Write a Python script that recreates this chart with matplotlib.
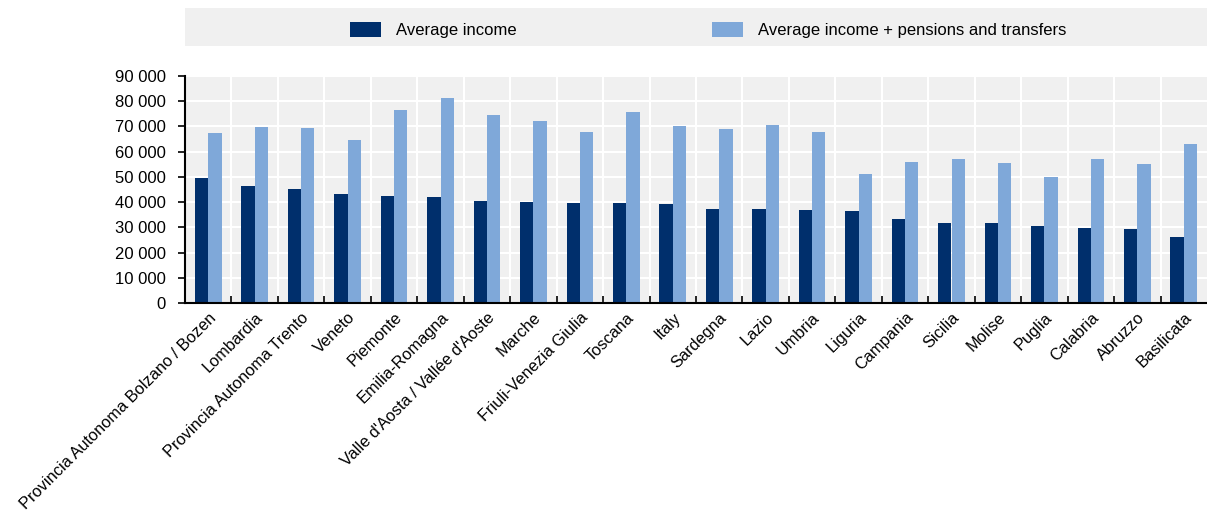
import numpy as np
import matplotlib
matplotlib.use("Agg")
import matplotlib.pyplot as plt
from matplotlib.ticker import FixedLocator, FuncFormatter

# Average disposable income by region, before and after pensions and transfers
regions = [
    "Provincia Autonoma Bolzano / Bozen", "Lombardia", "Provincia Autonoma Trento",
    "Veneto", "Piemonte", "Emilia-Romagna", "Valle d'Aosta / Vallée d'Aoste",
    "Marche", "Friuli-Venezia Giulia", "Toscana", "Italy", "Sardegna", "Lazio",
    "Umbria", "Liguria", "Campania", "Sicilia", "Molise", "Puglia", "Calabria",
    "Abruzzo", "Basilicata",
]
avg_income = [
    49400, 46500, 45100, 43200, 42600, 42000, 40400,
    40000, 39700, 39600, 39300, 37200, 37200,
    36800, 36500, 33400, 31900, 31800, 30700, 29900,
    29300, 26200,
]
avg_income_transfers = [
    67300, 69800, 69500, 64600, 76400, 81300, 74500,
    72000, 67800, 75600, 70100, 69100, 70500,
    67600, 51300, 55900, 57100, 55500, 50000, 57100,
    55100, 62900,
]
series_labels = ["Average income", "Average income + pensions and transfers"]
y_ticks = [0, 10000, 20000, 30000, 40000, 50000, 60000, 70000, 80000, 90000]

DARK = "#002f6c"
LIGHT = "#7fa8d9"
BG = "#f0f0f0"
FS = 12

plt.rcParams["font.family"] = ["Liberation Sans", "DejaVu Sans"]
plt.rcParams["font.size"] = FS

W, H = 1207, 514
fig = plt.figure(figsize=(W / 100, H / 100), dpi=100)

# main axes: pixel box 185..1207 x 76..303
ax = fig.add_axes([185 / W, (H - 303) / H, (W - 185) / W, (303 - 76) / H])
ax.set_facecolor(BG)

x = np.arange(len(regions))
bw = 0.286
b1 = ax.bar(x - bw / 2, avg_income, width=bw, color=DARK, zorder=3)
b2 = ax.bar(x + bw / 2, avg_income_transfers, width=bw, color=LIGHT, zorder=3)

ax.set_xlim(-0.5, len(regions) - 0.5)
ax.set_ylim(0, 90000)

ax.yaxis.set_major_locator(FixedLocator(y_ticks))
ax.yaxis.set_major_formatter(FuncFormatter(lambda v, p: f"{int(v):,}".replace(",", " ")))
ax.tick_params(axis="y", direction="out", length=5, width=1.2, pad=9, labelsize=FS)

ax.set_xticks(x)
ax.set_xticklabels(regions, rotation=45, ha="right", rotation_mode="anchor")
ax.tick_params(axis="x", which="major", length=0, pad=5, labelsize=11.8)
ax.set_xticks(x[:-1] + 0.5, minor=True)
ax.tick_params(axis="x", which="minor", direction="in", length=5, width=1.2)

ax.grid(axis="y", which="major", color="white", linewidth=1.5, zorder=0)
ax.grid(axis="x", which="minor", color="white", linewidth=1.5, zorder=0)
ax.set_axisbelow(True)

for s in ["top", "right"]:
    ax.spines[s].set_visible(False)
for s in ["left", "bottom"]:
    ax.spines[s].set_linewidth(1.5)
    ax.spines[s].set_zorder(4)

# legend band on top
lax = fig.add_axes([185 / W, (H - 46) / H, (W - 185) / W, 38 / H])
lax.set_facecolor(BG)
lax.set_xticks([])
lax.set_yticks([])
for s in lax.spines.values():
    s.set_visible(False)
lax.legend(
    [b1, b2], series_labels, ncol=2, frameon=False,
    loc="center left", bbox_to_anchor=((350 - 185) / (W - 185), 0.42),
    borderpad=0, borderaxespad=0, handlelength=1.86, handleheight=0.96,
    handletextpad=0.9, columnspacing=11.7, fontsize=FS,
)

fig.savefig("out.png", dpi=100)
